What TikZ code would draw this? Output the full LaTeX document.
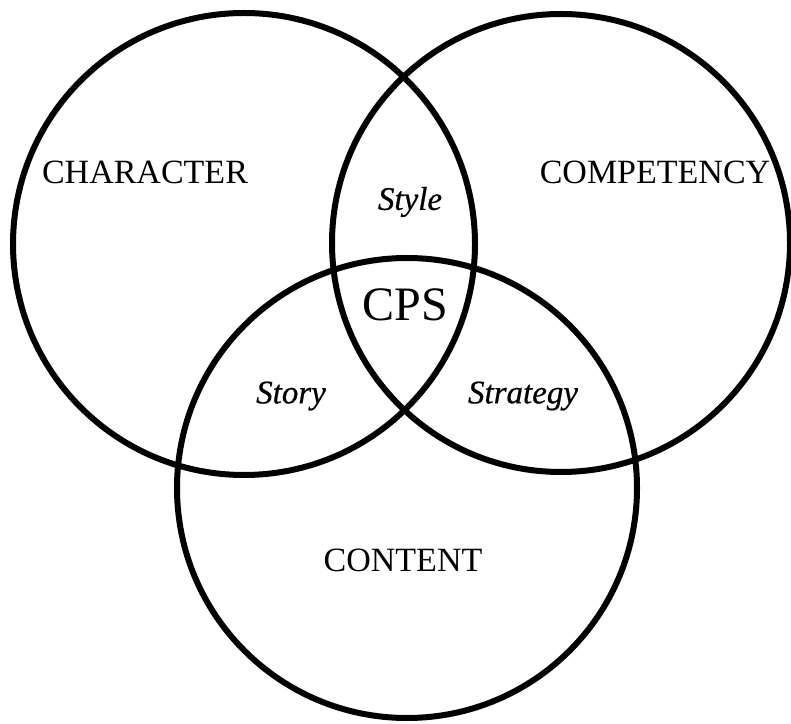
\documentclass[tikz,border=0pt]{standalone}
\usepackage{fontspec}
\setmainfont{Liberation Serif}
\newfontfamily\heavyital[FakeBold=0.6]{Liberation Serif Italic}
\begin{document}
\begin{tikzpicture}[x=1pt,y=1pt,
  ring/.style={circle, draw=black, line width=6pt, inner sep=0pt, minimum size=#1},
  big/.style={font=\fontsize{34}{40}\selectfont},
  region/.style={font=\fontsize{33}{40}\heavyital},
  core/.style={font=\fontsize{48}{56}\selectfont}]
\useasboundingbox (0,0) rectangle (791,723);
\node[ring=462pt] (character) at (244,479) {};
\node[ring=458pt] (competency) at (561,480) {};
\node[ring=460pt] (content) at (407,235) {};
\node[big] (lchar) at (145,551) {CHARACTER};
\node[big] (lcomp) at (655,551) {COMPETENCY};
\node[big] (lcont) at (403,163) {CONTENT};
\node[region] (lstyle) at (410,521) {Style};
\node[region] (lstory) at (291,327) {Story};
\node[region] (lstrat) at (523,327) {Strategy};
\node[core] (lcps) at (405,418) {CPS};
\end{tikzpicture}
\end{document}
